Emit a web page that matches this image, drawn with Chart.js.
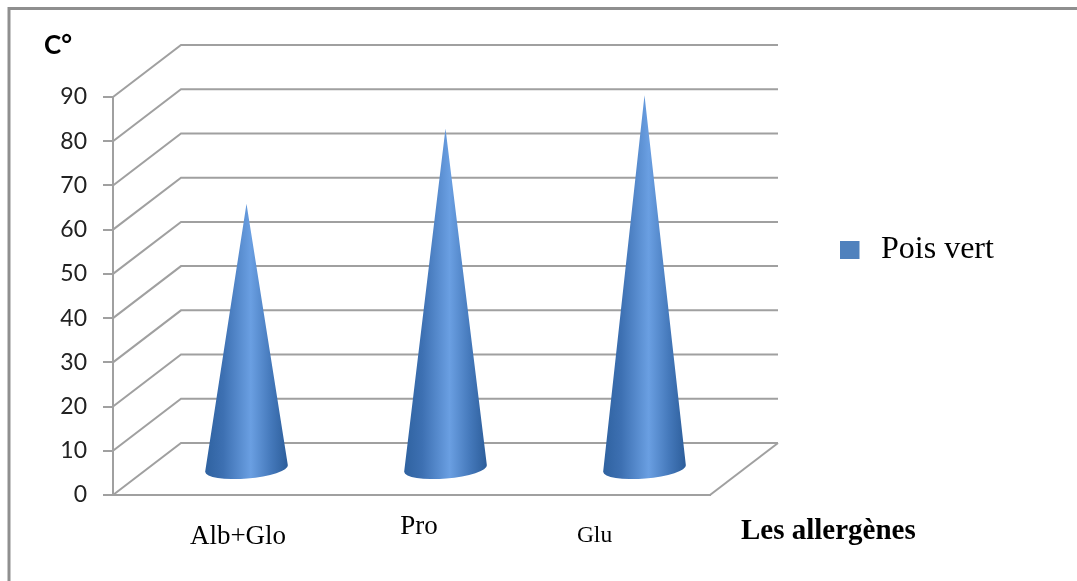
<!DOCTYPE html>
<html>
<head>
<meta charset="utf-8">
<style>html,body{margin:0;padding:0;background:#fff}canvas{display:block}</style>
<script src="https://cdn.jsdelivr.net/npm/chart.js@4"></script>
</head>
<body>
<canvas id="c" width="1077" height="581"></canvas>
<script>
const categories = ["Alb+Glo", "Pro", "Glu"];
const seriesName = "Pois vert";
const seriesValues = [60, 77, 84.5];
const yTicks = [0, 10, 20, 30, 40, 50, 60, 70, 80, 90];
const yTitle = "C°";
const xTitle = "Les allergènes";

const GRID = "#a0a0a0", FRAME = "#8f8f8f", DX = 68, DY = -52;
const catStyle = [
  {x: 238, y: 544, size: 27},
  {x: 419, y: 534, size: 27},
  {x: 594.5, y: 542, size: 23.5}
];

const scene = {
  id: "scene",
  beforeDraw(chart) {
    const c = chart.ctx, y = chart.scales.y, a = chart.chartArea;
    c.save();
    c.fillStyle = "#fff"; c.fillRect(0, 0, 1077, 581);
    c.strokeStyle = FRAME; c.lineWidth = 3;
    c.beginPath(); c.moveTo(1077, 8.5); c.lineTo(9, 8.5); c.lineTo(9, 581); c.stroke();
    c.strokeStyle = GRID; c.lineWidth = 2; c.lineJoin = "miter";
    yTicks.forEach(v => {
      const p = y.getPixelForValue(v);
      c.beginPath(); c.moveTo(a.left, p); c.lineTo(a.left + DX, p + DY); c.lineTo(a.right + DX, p + DY); c.stroke();
    });
    const b = y.getPixelForValue(0);
    c.beginPath(); c.moveTo(a.right, b); c.lineTo(a.right + DX, b + DY); c.stroke();
    c.restore();
  },
  afterDatasetsDraw(chart) {
    const c = chart.ctx;
    chart.getDatasetMeta(0).data.forEach(el => {
      const cx = el.x + DX / 2, top = el.y + DY / 2, base = el.base + DY / 2, r = el.width / 2;
      const tilt = -0.08, ry = 10;
      const lx = cx - r * Math.cos(tilt), ly = base - r * Math.sin(tilt);
      const g = c.createLinearGradient(cx - r, 0, cx + r, 0);
      g.addColorStop(0, "#2f62a0"); g.addColorStop(0.22, "#3d70b2");
      g.addColorStop(0.55, "#6a9fe2"); g.addColorStop(0.8, "#4478ba"); g.addColorStop(1, "#2c5d9a");
      c.save();
      c.fillStyle = g;
      c.beginPath();
      c.moveTo(cx, top);
      c.lineTo(lx, ly);
      c.ellipse(cx, base, r, ry, tilt, Math.PI, 0, true);
      c.closePath();
      c.fill();
      c.restore();
    });
  },
  afterDraw(chart) {
    const c = chart.ctx, y = chart.scales.y, a = chart.chartArea;
    c.save();
    c.fillStyle = GRID;
    c.fillRect(a.left - 1, a.top - 1, 2, a.bottom - a.top + 2);
    yTicks.forEach(v => {
      c.fillRect(a.left - 10, Math.round(y.getPixelForValue(v)) - 1, 10, 2);
    });
    c.fillStyle = "#000"; c.textBaseline = "alphabetic";
    c.textAlign = "center";
    categories.forEach((t, i) => {
      c.font = catStyle[i].size + 'px "Liberation Serif"';
      c.fillText(t, catStyle[i].x, catStyle[i].y);
    });
    c.textAlign = "left";
    c.font = 'bold 29px "Liberation Serif"';
    c.fillText(xTitle, 741, 539);
    c.font = '32px "Liberation Serif"';
    c.fillText(seriesName, 881, 258);
    c.fillStyle = "#4f81bd"; c.fillRect(840, 241, 19.5, 18);
    c.fillStyle = "#000"; c.font = 'bold 26px Lato';
    c.fillText(yTitle, 44, 54);
    c.restore();
  }
};

new Chart(document.getElementById("c"), {
  type: "bar",
  data: {
    labels: categories,
    datasets: [{
      label: seriesName,
      data: seriesValues,
      backgroundColor: "rgba(0,0,0,0)",
      borderWidth: 0,
      barPercentage: 0.417,
      categoryPercentage: 1
    }]
  },
  plugins: [scene],
  options: {
    responsive: false,
    animation: false,
    layout: {padding: {left: 0, top: 97, right: 367, bottom: 86}},
    plugins: {legend: {display: false}, tooltip: {enabled: false}, title: {display: false}},
    scales: {
      x: {
        afterFit(s) { s.height = 0; },
        ticks: {display: false},
        grid: {display: false},
        border: {display: true, color: GRID, width: 2}
      },
      y: {
        min: 0, max: 90,
        afterFit(s) { s.width = 113; },
        afterBuildTicks(s) { s.ticks = yTicks.map(v => ({value: v})); },
        ticks: {color: "#222", font: {family: "Lato", size: 23}, padding: 26},
        grid: {drawOnChartArea: false, drawTicks: false},
        border: {display: true, color: GRID, width: 2}
      }
    }
  }
});
</script>
</body>
</html>
